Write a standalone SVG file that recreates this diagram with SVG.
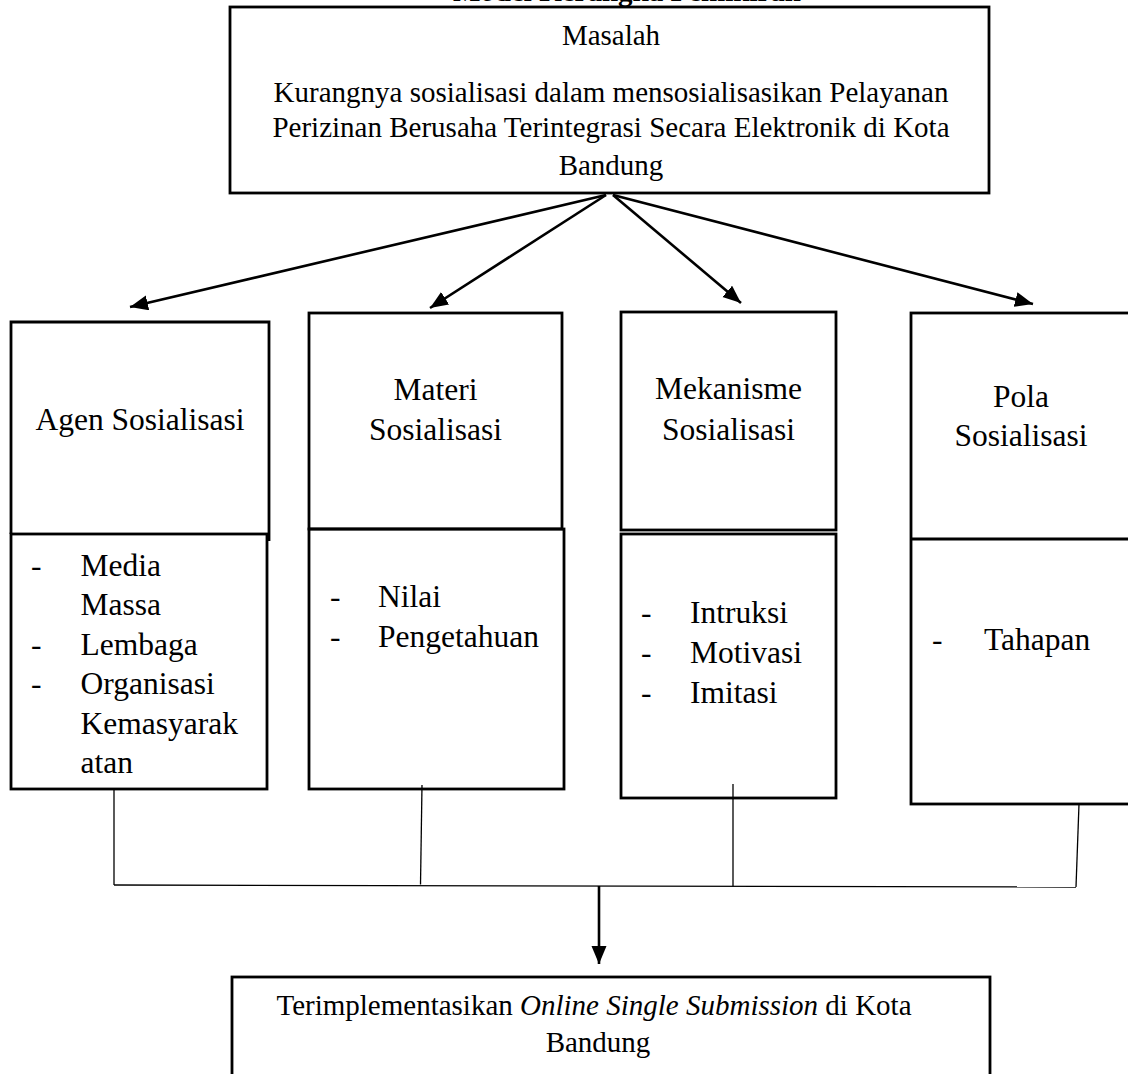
<svg xmlns="http://www.w3.org/2000/svg" width="1128" height="1074" viewBox="0 0 1128 1074">
<style>
  .box { fill: none; stroke: #000; stroke-width: 2.8; }
  .t { font-family: "Liberation Serif", "Times New Roman", serif; fill: #000; }
  .top { font-size: 29px; text-anchor: middle; }
  .mid { font-size: 31.5px; }
  .c { text-anchor: middle; }
  .arrow { stroke: #000; stroke-width: 2.6; fill: none; marker-end: url(#ah); }
  .thin { stroke: #000; stroke-width: 1.3; fill: none; }
</style>
<defs>
  <marker id="ah" markerUnits="userSpaceOnUse" markerWidth="20" markerHeight="16" refX="18" refY="7.5" orient="auto">
    <path d="M0,0 L18,7.5 L0,15 z" fill="#000"/>
  </marker>
</defs>
<rect width="1128" height="1074" fill="#fff"/>

<text class="t" x="627" y="1" font-size="29" font-weight="bold" text-anchor="middle">Model Kerangka Pemikiran</text>

<g id="masalah">
  <rect class="box" x="230" y="7" width="759" height="186"/>
  <text class="t top" x="611" y="45">Masalah</text>
  <text class="t top" x="611" y="102">Kurangnya sosialisasi dalam mensosialisasikan Pelayanan</text>
  <text class="t top" x="611" y="137">Perizinan Berusaha Terintegrasi Secara Elektronik di Kota</text>
  <text class="t top" x="611" y="175">Bandung</text>
</g>

<g id="agen">
  <path class="box" d="M11,534 L11,322 L269,322 L269,541"/>
  <rect class="box" x="11" y="534" width="256" height="255"/>
  <text class="t mid c" x="140" y="430">Agen Sosialisasi</text>
  <g class="t mid">
    <text x="31" y="576">-</text><text x="80.5" y="576">Media</text>
    <text x="80.5" y="615">Massa</text>
    <text x="31" y="655">-</text><text x="80.5" y="655">Lembaga</text>
    <text x="31" y="694">-</text><text x="80.5" y="694">Organisasi</text>
    <text x="80.5" y="734">Kemasyarak</text>
    <text x="80.5" y="773">atan</text>
  </g>
</g>

<g id="materi">
  <rect class="box" x="309" y="313" width="253" height="216"/>
  <rect class="box" x="309" y="529" width="255" height="260"/>
  <text class="t mid c" x="435.5" y="400">Materi</text>
  <text class="t mid c" x="435.5" y="440">Sosialisasi</text>
  <g class="t mid">
    <text x="330" y="607">-</text><text x="378" y="607">Nilai</text>
    <text x="330" y="647">-</text><text x="378" y="647">Pengetahuan</text>
  </g>
</g>

<g id="mekanisme">
  <rect class="box" x="621" y="312" width="215" height="218"/>
  <rect class="box" x="621" y="534" width="215" height="264"/>
  <text class="t mid c" x="728.5" y="399">Mekanisme</text>
  <text class="t mid c" x="728.5" y="440">Sosialisasi</text>
  <g class="t mid">
    <text x="641" y="623">-</text><text x="690" y="623">Intruksi</text>
    <text x="641" y="663">-</text><text x="690" y="663">Motivasi</text>
    <text x="641" y="703">-</text><text x="690" y="703">Imitasi</text>
  </g>
</g>

<g id="pola">
  <rect class="box" x="911" y="313" width="220" height="491"/>
  <line class="box" x1="911" y1="539" x2="1131" y2="539"/>
  <text class="t mid c" x="1021" y="407">Pola</text>
  <text class="t mid c" x="1021" y="446">Sosialisasi</text>
  <g class="t mid">
    <text x="932" y="650">-</text><text x="984" y="650">Tahapan</text>
  </g>
</g>

<g id="hasil">
  <rect class="box" x="232" y="977" width="758" height="110"/>
  <text class="t top" x="594" y="1015">Terimplementasikan <tspan font-style="italic">Online Single Submission</tspan> di Kota</text>
  <text class="t top" x="598" y="1052">Bandung</text>
</g>

<g id="connectors">
  <line class="arrow" x1="606" y1="195" x2="130" y2="307"/>
  <line class="arrow" x1="606" y1="195" x2="430" y2="308"/>
  <line class="arrow" x1="613" y1="195" x2="741" y2="303"/>
  <line class="arrow" x1="613" y1="195" x2="1033" y2="304"/>
  <line class="thin" x1="114" y1="789" x2="114" y2="885"/>
  <line class="thin" x1="422" y1="785" x2="420.5" y2="884.5"/>
  <line class="thin" x1="733" y1="784" x2="733" y2="886.5"/>
  <line class="thin" x1="1079" y1="804" x2="1076" y2="887"/>
  <line class="thin" x1="114" y1="885" x2="1076" y2="887"/>
  <line class="arrow" x1="599" y1="886" x2="599" y2="964"/>
</g>
</svg>
